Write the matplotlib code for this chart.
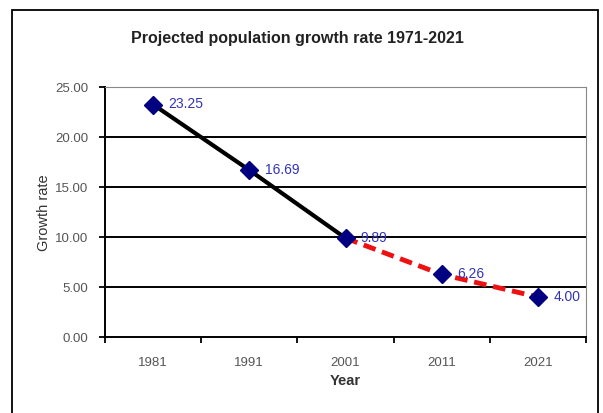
import matplotlib
matplotlib.use("Agg")
import matplotlib.pyplot as plt
from matplotlib.patches import Rectangle

years = ["1981", "1991", "2001", "2011", "2021"]
rates = [23.25, 16.69, 9.89, 6.26, 4.00]
actual_idx = [0, 1, 2]
proj_idx = [2, 3, 4]
yticks = [0, 5, 10, 15, 20, 25]

plt.rcParams['font.family'] = ['Liberation Sans', 'DejaVu Sans']
W, H = 603, 414
fig = plt.figure(figsize=(W/100, H/100), dpi=100)
fig.patch.set_facecolor('white')

# outer frame
fig.add_artist(Rectangle((12/W, -0.02), (598-12)/W, (H-11)/H + 0.02, transform=fig.transFigure,
                         fill=False, edgecolor='black', linewidth=1.3))

L, R, T, B = 105, 586, 88, 338
ax = fig.add_axes([L/W, 1 - B/H, (R-L)/W, (B-T)/H])
x = list(range(len(years)))
ax.set_xlim(-0.5, len(years) - 0.5)
ax.set_ylim(0, 25)
ax.set_yticks(yticks)
ax.set_yticklabels([f"{v:.2f}" for v in yticks])
for v in yticks[1:-1]:
    ax.axhline(v, color='black', linewidth=1.4, zorder=1)
ax.set_xticks(x)
ax.set_xticklabels(years)
ax.set_xticks([i - 0.5 for i in range(len(years) + 1)], minor=True)
ax.tick_params(axis='x', which='major', length=0, labelsize=9.5, labelcolor='#555555', pad=14)
ax.tick_params(axis='x', which='minor', length=4, width=1.3, direction='out', color='black')
ax.tick_params(axis='y', labelsize=9.5, labelcolor='#555555', length=4, width=1.3,
               direction='out', color='black', pad=8)

ax.spines['left'].set_color('black')
ax.spines['bottom'].set_color('black')
ax.spines['top'].set_color('#888888')
ax.spines['right'].set_color('#888888')
ax.spines['left'].set_linewidth(1.4)
ax.spines['bottom'].set_linewidth(1.4)

ax.plot([x[i] for i in actual_idx], [rates[i] for i in actual_idx], color='black', linewidth=3, zorder=3)
ax.plot([x[i] for i in proj_idx], [rates[i] for i in proj_idx], color='#ee1111', linewidth=3.5,
        linestyle=(0, (2.6, 1.4)), zorder=3)
ax.plot(x, rates, linestyle='none', marker='D', markersize=9, color='#000080', zorder=4)
for xi, r in zip(x, rates):
    ax.annotate(f"{r:.2f}", (xi, r), xytext=(11, 1), textcoords='offset points',
                va='center', ha='left', fontsize=10, color='#3333bb', zorder=5)

ax.set_xlabel("Year", fontsize=10.5, fontweight='bold', color='#333333', labelpad=3)
ax.set_ylabel("Growth rate", fontsize=10.5, color='#333333', labelpad=3)

fig.text(297/W, 1 - 39/H, "Projected population growth rate 1971-2021", ha='center', va='center',
         fontsize=11.5, fontweight='bold', color='#222222')

fig.savefig("out.png", dpi=100)
